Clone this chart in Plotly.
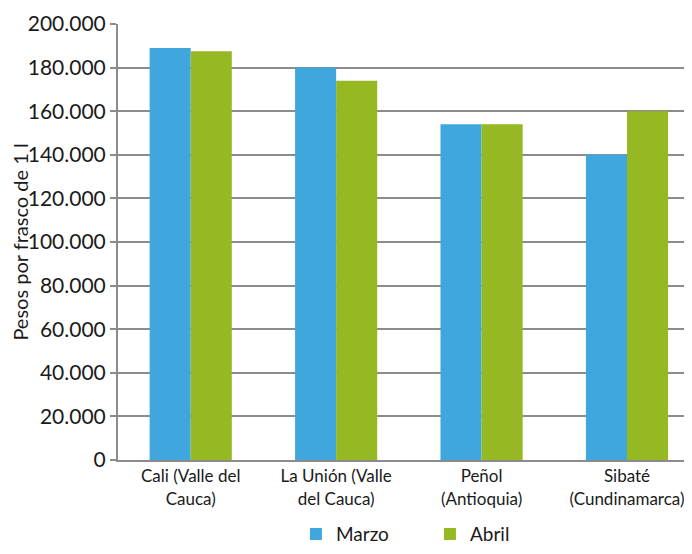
import plotly.graph_objects as go

categories = ["Cali (Valle del<br>Cauca)", "La Unión (Valle<br>del Cauca)", "Peñol<br>(Antioquia)", "Sibaté<br>(Cundinamarca)"]
marzo = [189000, 180000, 154000, 140000]
abril = [187500, 174000, 154000, 160000]
y_ticks = [0, 20000, 40000, 60000, 80000, 100000, 120000, 140000, 160000, 180000, 200000]

FONT = "Lato"
TXT = "#1a1a1a"
GRID = "#8c8c8c"

fig = go.Figure()
fig.add_bar(name="Marzo", x=categories, y=marzo, marker=dict(color="#3fa7dd", line=dict(width=0)))
fig.add_bar(name="Abril", x=categories, y=abril, marker=dict(color="#95b823", line=dict(width=0)))

# page body has an 8px margin, so the figure is sized/offset to compensate
fig.update_layout(
    width=684, height=546,
    margin=dict(l=110, r=0, t=16, b=94),
    paper_bgcolor="white", plot_bgcolor="white",
    separators=",.",
    barmode="group", bargap=0.435, bargroupgap=0,
    font=dict(family=FONT, color=TXT, size=18),
    showlegend=True,
    legend=dict(orientation="h", x=0.31, xanchor="left", y=-0.17, yanchor="middle",
                font=dict(size=19, color=TXT), entrywidth=89, entrywidthmode="pixels",
                traceorder="normal"),
    xaxis=dict(range=[-0.5, 3.447], showgrid=False, showline=True, linecolor=GRID, linewidth=2,
               ticks="", tickfont=dict(size=17, color=TXT), automargin=False),
    yaxis=dict(range=[0, 200000], tickvals=y_ticks, tickformat=",.0f",
               showgrid=True, gridcolor=GRID, gridwidth=2,
               showline=True, linecolor=GRID, linewidth=2,
               ticks="outside", ticklen=6, tickcolor=GRID, tickwidth=2,
               zeroline=False, automargin=False,
               tickfont=dict(size=21, color=TXT),
               title=dict(text="Pesos por frasco de 1 l", font=dict(size=20, color=TXT), standoff=6)),
)

fig.write_html("out.html")
